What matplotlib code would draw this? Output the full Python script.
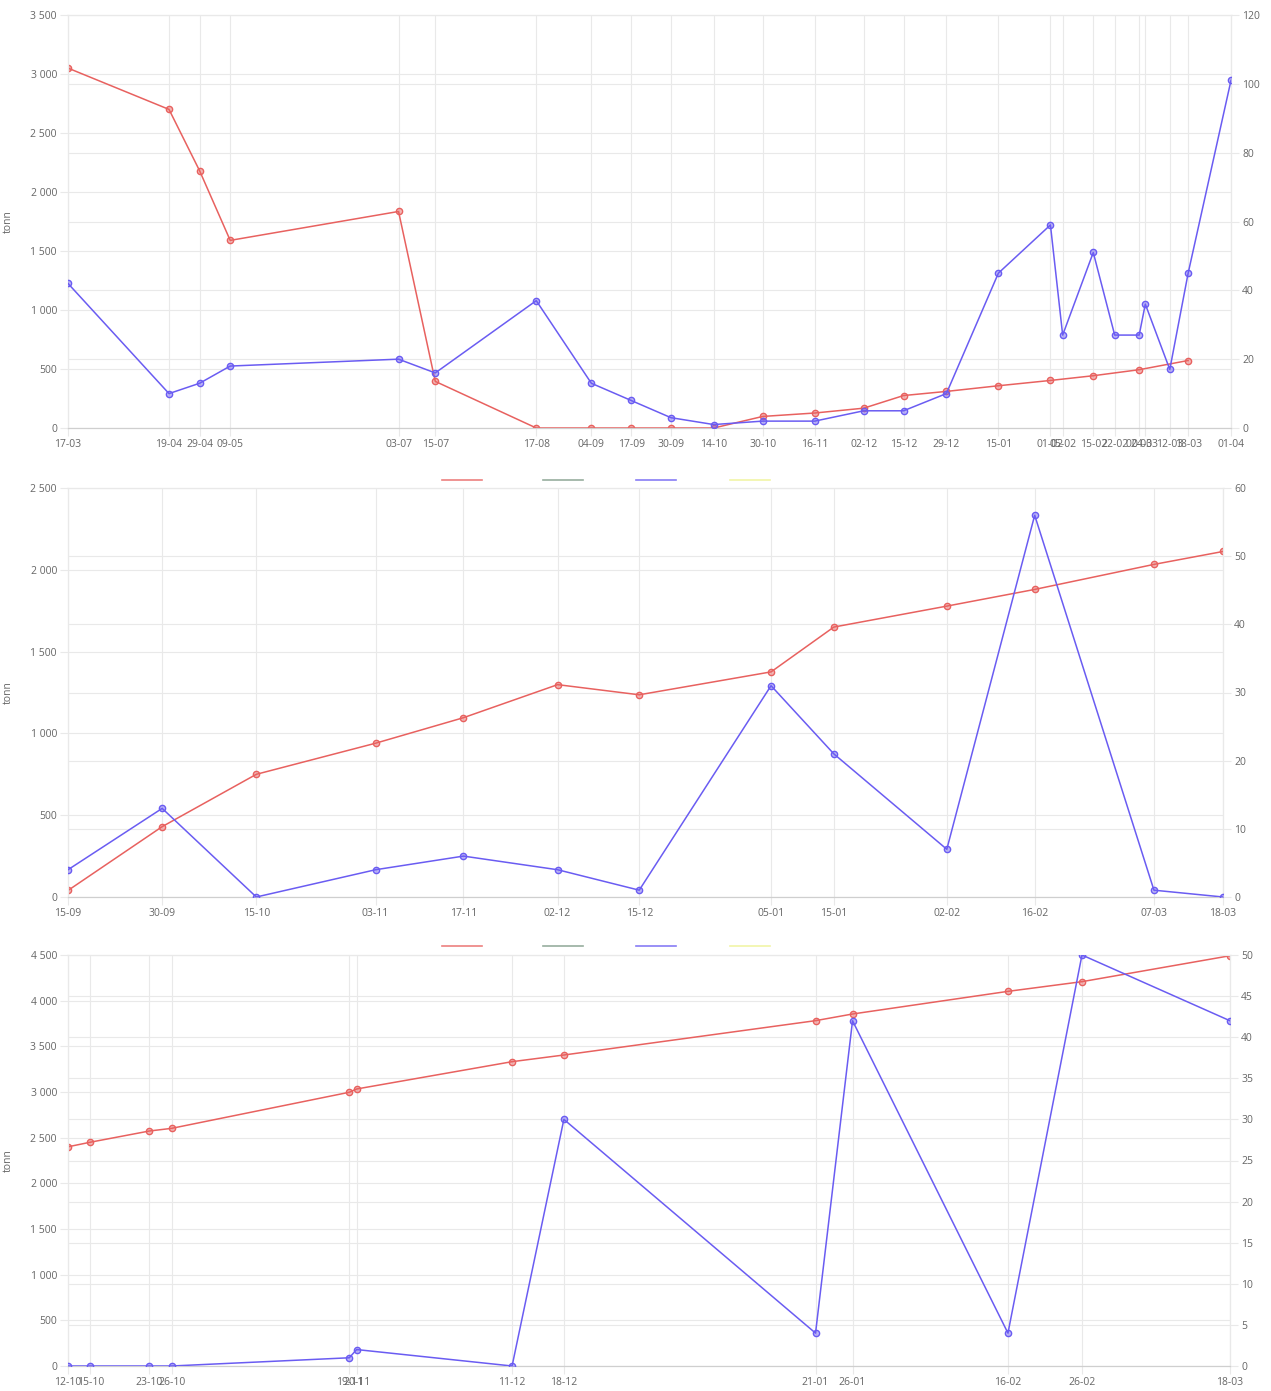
import datetime as dt

import matplotlib
matplotlib.use("Agg")
import matplotlib.dates as mdates
import matplotlib.pyplot as plt
from matplotlib.lines import Line2D
from matplotlib.ticker import FixedLocator, FuncFormatter, MultipleLocator

plt.rcParams["font.family"] = ["Open Sans", "DejaVu Sans"]


def d(s):
    return dt.datetime.strptime(s, "%Y-%m-%d")


# ---- panel 1 ----
p1_ticks = ["2022-03-17", "2022-04-19", "2022-04-29", "2022-05-09", "2022-07-03",
            "2022-07-15", "2022-08-17", "2022-09-04", "2022-09-17", "2022-09-30",
            "2022-10-14", "2022-10-30", "2022-11-16", "2022-12-02", "2022-12-15",
            "2022-12-29", "2023-01-15", "2023-02-01", "2023-02-05", "2023-02-15",
            "2023-02-22", "2023-03-02", "2023-03-04", "2023-03-12", "2023-03-18",
            "2023-04-01"]
p1_red_dates = ["2022-03-17", "2022-04-19", "2022-04-29", "2022-05-09", "2022-07-03",
                "2022-07-15", "2022-08-17", "2022-09-04", "2022-09-17", "2022-09-30",
                "2022-10-14", "2022-10-30", "2022-11-16", "2022-12-02", "2022-12-15",
                "2022-12-29", "2023-01-15", "2023-02-01", "2023-02-15", "2023-03-02",
                "2023-03-18"]
p1_red = [3050, 2700, 2180, 1590, 1835, 395, 0, 0, 0, 0,
          0, 98, 127, 168, 275, 310, 358, 403, 443, 494, 572]
p1_blue_dates = p1_ticks
p1_blue = [42, 10, 13, 18, 20, 16, 37, 13, 8, 3,
           1, 2, 2, 5, 5, 10, 45, 59, 27, 51,
           27, 27, 36, 17, 45, 101]

# ---- panel 2 ----
p2_ticks = ["2022-09-15", "2022-09-30", "2022-10-15", "2022-11-03", "2022-11-17",
            "2022-12-02", "2022-12-15", "2023-01-05", "2023-01-15", "2023-02-02",
            "2023-02-16", "2023-03-07", "2023-03-18"]
p2_red = [40, 430, 750, 940, 1096, 1298, 1236, 1376, 1650, 1778, 1880, 2033, 2112]
p2_blue = [4, 13, 0, 4, 6, 4, 1, 31, 21, 7, 56, 1, 0]

# ---- panel 3 ----
p3_ticks = ["2022-10-12", "2022-10-15", "2022-10-23", "2022-10-26", "2022-11-19",
            "2022-11-20", "2022-12-11", "2022-12-18", "2023-01-21", "2023-01-26",
            "2023-02-16", "2023-02-26", "2023-03-18"]
p3_red = [2400, 2450, 2573, 2602, 2997, 3033, 3332, 3405, 3781, 3854, 4102, 4208, 4492]
p3_blue = [0, 0, 0, 0, 1, 2, 0, 30, 4, 42, 4, 50, 42]

RED = "#e8615f"
BLUE = "#6a5cf2"
GREEN = "#7d9a86"
YELLOW = "#eef290"
GRID = "#e9e9e9"
TXT = "#666666"

W, H = 1271, 1391
fig = plt.figure(figsize=(W / 100, H / 100), dpi=100)


def rect(left, top, right, bottom):
    return [left / W, 1 - bottom / H, (right - left) / W, (bottom - top) / H]


def thousands(v, pos):
    return f"{v:,.0f}".replace(",", " ")


def panel(r, ticks, red_dates, red, blue_dates, blue, lmax, lstep, rmax, rstep):
    ax = fig.add_axes(r)
    ax2 = ax.twinx()
    tick_d = [d(t) for t in ticks]

    ax.plot([d(t) for t in red_dates], red, color=RED, lw=1.1, marker="o", ms=4.5,
            mfc=(0.91, 0.38, 0.37, 0.45), mec=RED, mew=1, zorder=3)
    ax2.plot([d(t) for t in blue_dates], blue, color=BLUE, lw=1.1, marker="o", ms=4.5,
             mfc=(0.42, 0.36, 0.95, 0.45), mec=BLUE, mew=1, zorder=3)

    ax.set_xlim(tick_d[0], tick_d[-1])
    ax.set_ylim(0, lmax)
    ax2.set_ylim(0, rmax)
    ax.yaxis.set_major_locator(MultipleLocator(lstep))
    ax.yaxis.set_major_formatter(FuncFormatter(thousands))
    ax2.yaxis.set_major_locator(MultipleLocator(rstep))
    ax.set_xticks(tick_d)
    ax.xaxis.set_major_formatter(mdates.DateFormatter("%d-%m"))

    # right-axis grid lines drawn on the bottom axes so both lines sit above them
    n = int(rmax / rstep)
    ax.yaxis.set_minor_locator(FixedLocator([i * lmax / n for i in range(n + 1)]))
    ax.tick_params(axis="y", which="minor", length=0)

    ax.grid(True, which="major", color=GRID, lw=0.8)
    ax.grid(True, which="minor", axis="y", color=GRID, lw=0.8)
    ax.set_axisbelow(True)
    ax2.grid(False)

    for a in (ax, ax2):
        for s in a.spines.values():
            s.set_color(GRID)
        a.spines["bottom"].set_color("#cfcfcf")
        a.tick_params(which="major", labelsize=7.5, colors=TXT, length=6, color=GRID, pad=2)
    ax.set_ylabel("tonn", fontsize=7.5, color=TXT)
    ax.yaxis.set_label_coords(-54 / (r[2] * W), 0.5)
    return ax


panel(rect(68, 15, 1231, 428), p1_ticks, p1_red_dates, p1_red, p1_blue_dates, p1_blue,
      3500, 500, 120, 20)
panel(rect(68, 488, 1223, 897), p2_ticks, p2_ticks, p2_red, p2_ticks, p2_blue,
      2500, 500, 60, 10)
panel(rect(68, 955, 1230, 1366), p3_ticks, p3_ticks, p3_red, p3_ticks, p3_blue,
      4500, 500, 50, 5)

# legends (swatches without text) below panel 1 and panel 2
for ly in (480, 946):
    for cx, c in zip((462, 563, 656, 750), (RED, GREEN, BLUE, YELLOW)):
        fig.add_artist(Line2D([(cx - 20) / W, (cx + 20) / W], [1 - ly / H, 1 - ly / H],
                              color=c, lw=1.2, alpha=0.8, transform=fig.transFigure))

fig.savefig("out.png", dpi=100, facecolor="white")
